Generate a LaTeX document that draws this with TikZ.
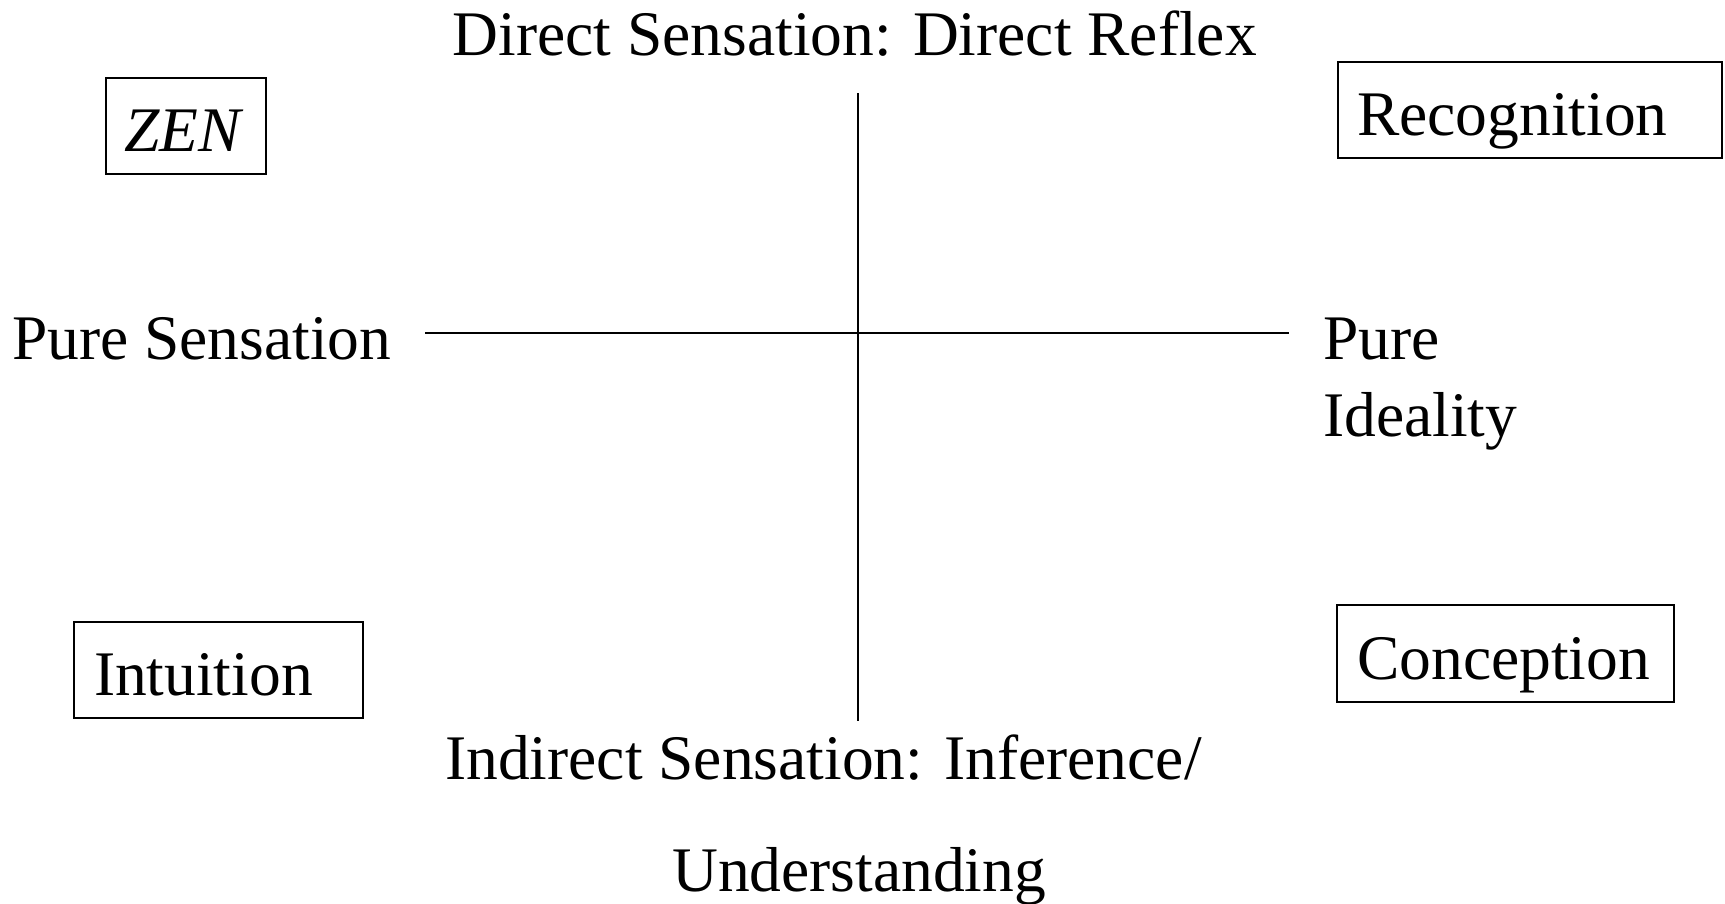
\documentclass[tikz,border=0pt]{standalone}
\usepackage{fontspec}
\setmainfont{Liberation Serif}
\begin{document}
\begin{tikzpicture}[x=1pt,y=-1pt,
  lbl/.style={anchor=base west,inner sep=0pt,font=\fontsize{63.5}{76}\selectfont},
  frame/.style={draw,line width=2pt,anchor=north west,inner sep=0pt},
  axis/.style={line width=2pt}]
\useasboundingbox (0,0) rectangle (1725,903);
% boxes
\node[frame,minimum width=160.5pt,minimum height=96pt] (zenbox) at (104.5,77) {};
\node[frame,minimum width=384pt,minimum height=96pt] (recbox) at (1336.5,61) {};
\node[frame,minimum width=289pt,minimum height=96pt] (intbox) at (72.7,620.7) {};
\node[frame,minimum width=337pt,minimum height=97pt] (conbox) at (1336,604) {};
% box texts
\node[lbl,font=\fontsize{63.5}{76}\selectfont\itshape] (zen) at (124.4,151) {ZEN};
\node[lbl] (rec) at (1357,135) {Recognition};
\node[lbl] (int) at (93.8,695) {Intuition};
\node[lbl] (con) at (1357,679) {Conception};
% axis labels
\node[lbl] (top) at (452.5,55) {Direct Sensation: Direct Reflex};
\node[lbl] (left) at (12,359) {Pure Sensation};
\node[lbl] (right1) at (1323,359) {Pure};
\node[lbl] (right2) at (1323,436) {Ideality};
\node[lbl] (bot1) at (445,779) {Indirect Sensation: Inference/};
\node[lbl] (bot2) at (672,891) {Understanding};
% axes
\coordinate (vt) at (858,93);
\coordinate (vb) at (858,721);
\coordinate (hl) at (425,333);
\coordinate (hr) at (1289,333);
\draw[axis] (vt) -- (vb);
\draw[axis] (hl) -- (hr);
\end{tikzpicture}
\end{document}
